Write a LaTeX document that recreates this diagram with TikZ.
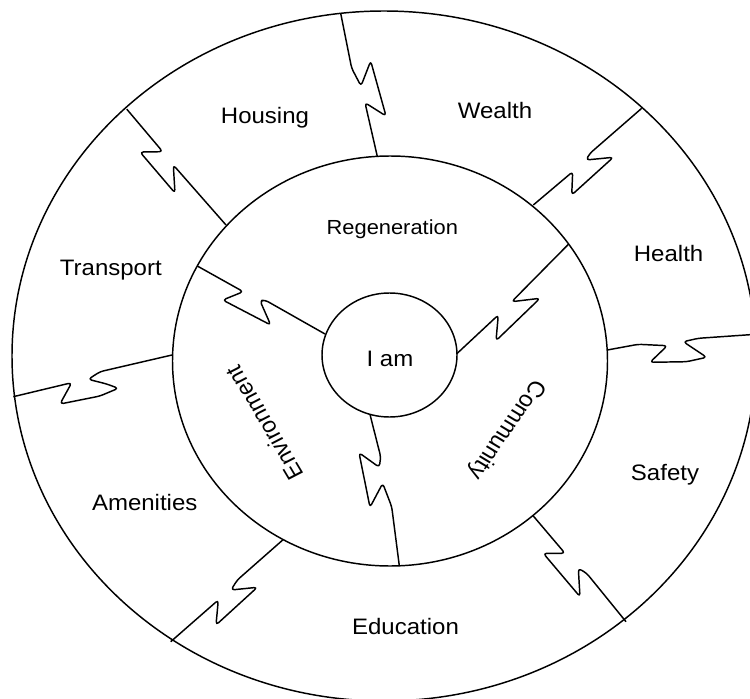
\documentclass[tikz,border=0pt]{standalone}
\usepackage{fontspec}
\setmainfont{Liberation Sans}
\begin{document}
\begin{tikzpicture}[x=0.75pt, y={(0pt,-0.75pt)},
  rim/.style={line width=1.1pt},
  zig/.style={line width=1.1pt, rounded corners=2.5pt, line join=round},
  lab/.style={inner sep=0pt, text height=12.9pt, text depth=0pt, yscale=0.932,
              font=\fontsize{18pt}{21pt}\selectfont},
  labs/.style={lab, font=\fontsize{16.4pt}{19pt}\selectfont},
]
\clip (0,0) rectangle (750,699);
% circles
\draw[rim] (384,356) ellipse [x radius=372, y radius=345];
\draw[rim] (390,361) ellipse [x radius=217.5, y radius=205];
\draw[rim] (389.5,355) ellipse [x radius=67.5, y radius=62];
% outer dividers
\draw[zig] (340.7,13.3) -- (351.7,68.3) -- (361,86) -- (370.7,61) -- (386,116) -- (365,102.7) -- (377.3,156.4);
\draw[zig] (126.8,109.2) -- (162.7,151.7) -- (140,152) -- (175,193) -- (173.3,165) -- (226,225);
\draw[zig] (641.7,108.3) -- (590,153.3) -- (586,160) -- (613.3,157.3) -- (571.7,195) -- (572.7,171.7) -- (533.3,205);
\draw[zig] (607.3,350) -- (638.3,344.3) -- (667.3,345.7) -- (650,362.3) -- (686.7,361.7) -- (706.7,357.3) -- (683.3,341.7) -- (698.3,338.3) -- (760,334);
\draw[zig] (533.3,516) -- (565,553.3) -- (543.3,553.3) -- (580,596.7) -- (578.3,568.3) -- (586.7,573.3) -- (626,621.7);
\draw[zig] (283.3,539.5) -- (237.3,580) -- (231,590) -- (257.3,587.3) -- (216,625) -- (218.3,600) -- (170.7,641.7);
\draw[zig] (172,355) -- (100,371.7) -- (88.3,379.3) -- (106.7,384) -- (118.3,388.3) -- (100,396) -- (60,404) -- (71.7,382.7) -- (13.3,396.7);
% inner dividers
\draw[zig] (197.3,266) -- (243.3,291.7) -- (222.7,300) -- (270.7,325) -- (260,300.7) -- (265,300) -- (325,334);
\draw[zig] (456.5,354) -- (498.3,315) -- (496,340.7) -- (540,298.3) -- (511.7,301.7) -- (568.4,244.3);
\draw[zig] (370,414.5) -- (380.7,456.7) -- (379.3,467.3) -- (359,452.7) -- (370,507.3) -- (382.7,483.3) -- (391.7,506.7) -- (399.3,565.7);
% labels
\node[lab] (housing) at (265,115.5) {Housing};
\node[lab] (wealth) at (495,110) {Wealth};
\node[lab] (health) at (668.6,253) {Health};
\node[lab] (transport) at (110.8,267) {Transport};
\node[labs] (regen) at (392.3,226.5) {Regeneration};
\node[lab] (iam) at (390,358.7) {I am};
\node[lab, rotate=119] (env) at (264.4,423) {Environment};
\node[lab, rotate=237] (comm) at (508.5,430.5) {Community};
\node[lab] (safety) at (665,472) {Safety};
\node[lab] (amen) at (144.7,502) {Amenities};
\node[lab] (edu) at (405.5,626) {Education};
\end{tikzpicture}
\end{document}
